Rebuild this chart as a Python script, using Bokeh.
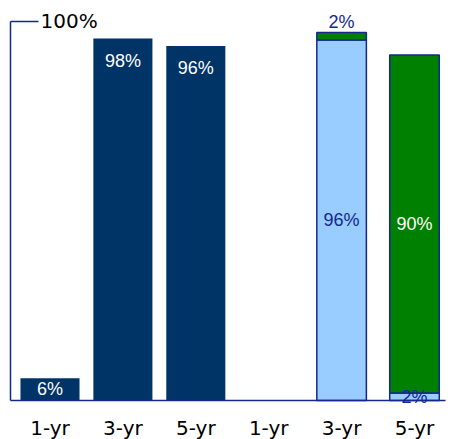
from bokeh.plotting import figure
from bokeh.models import Range1d, FixedTicker, Label, ColumnDataSource
from bokeh.core.properties import value
from bokeh.embed import file_html
from bokeh.resources import INLINE

# ---- data ----
periods = ["1-yr", "3-yr", "5-yr"]
left_vals = [6, 98, 96]            # left group (single series)
right_light = [0, 96, 2]           # right group, light-blue segment
right_green = [0, 2, 90]           # right group, green segment
top_label = "100%"

NAVY = "#14288C"
DARK = "#003366"
LIGHT = "#99CCFF"
GREEN = "#008000"

x_left = [0, 1, 2]
x_right = [3, 4, 5]

# layout helpers (pixel geometry)
PX_X = 72.9          # px per category step
PX_Y_L = 3.694       # px per % (left group)
PX_Y_R = 3.755       # px per % (right group)
X0 = -49.5 / PX_X    # data x at canvas left edge


def xd(px):
    return X0 + px / PX_X


def yd(px):
    return (400 - px) / PX_Y_L


p = figure(frame_width=452, frame_height=403,
           x_range=Range1d(X0, xd(452)),
           y_range=Range1d(-3 / PX_Y_L, 400 / PX_Y_L),
           output_backend="svg", toolbar_location=None,
           min_border_left=0, min_border_right=0, min_border_top=0, min_border_bottom=0)
p.extra_y_ranges = {"r": Range1d(-3 / PX_Y_R, 400 / PX_Y_R)}
p.outline_line_color = None
p.xgrid.visible = False
p.ygrid.visible = False
p.yaxis.visible = False
p.background_fill_color = "white"

# left bars
p.vbar(x=x_left, top=left_vals, width=0.81, fill_color=DARK, line_color=None)

# right stacked bars (skip empty category)
keep = [i for i in range(3) if right_light[i] + right_green[i] > 0]
src = ColumnDataSource(dict(x=[x_right[i] for i in keep],
                            light=[right_light[i] for i in keep],
                            green=[right_green[i] for i in keep]))
p.vbar_stack(["light", "green"], x="x", width=0.68, source=src,
             fill_color=[LIGHT, GREEN], line_color=NAVY, line_width=1.5,
             y_range_name="r")

# axis frame lines: left vertical, top tick, baseline
p.segment(x0=[xd(10), xd(10), xd(10)], y0=[0, yd(21), 0],
          x1=[xd(10), xd(38), xd(445)], y1=[yd(21), yd(21), 0],
          line_color=NAVY, line_width=1.5)

# labels - left
ly = [v / 2 if v < 15 else v - 6.0 for v in left_vals]
p.text(x=x_left, y=ly, text=[f"{v}%" for v in left_vals], text_color="white",
       text_align="center", text_baseline="middle",
       text_font=value("Liberation Sans"), text_font_size="18px")

# labels - right
rl_x, rl_y, rl_t, rl_c = [], [], [], []
for xi, a, b in zip(x_right, right_light, right_green):
    if a + b == 0:
        continue
    rl_x.append(xi); rl_y.append(a / 2); rl_t.append(f"{a}%"); rl_c.append(NAVY)
    if b >= 10:
        rl_x.append(xi); rl_y.append(a + b / 2); rl_t.append(f"{b}%"); rl_c.append("white")
    else:
        rl_x.append(xi); rl_y.append(a + b + 2.7); rl_t.append(f"{b}%"); rl_c.append(NAVY)
p.text(x=rl_x, y=rl_y, text=rl_t, text_color=rl_c, text_align="center",
       text_baseline="middle", text_font=value("Liberation Sans"),
       text_font_size="18px", y_range_name="r")

# x axis (labels only)
xa = p.xaxis[0]
xa.ticker = FixedTicker(ticks=x_left + x_right)
xa.major_label_overrides = {i: periods[i % 3] for i in x_left + x_right}
xa.axis_line_color = None
xa.major_tick_line_color = None
xa.minor_tick_line_color = None
xa.major_tick_out = 0
xa.major_tick_in = 0
xa.minor_tick_out = 0
xa.minor_tick_in = 0
xa.major_label_text_font = "DejaVu Sans"
xa.major_label_text_font_size = "20px"
xa.major_label_text_color = "black"
xa.major_label_standoff = 12

p.add_layout(Label(x=xd(40), y=yd(20), text=top_label,
                   text_font="DejaVu Sans", text_font_size="20px",
                   text_color="black", text_baseline="middle", text_align="left"))

open("out.html", "w").write(file_html(p, INLINE))
